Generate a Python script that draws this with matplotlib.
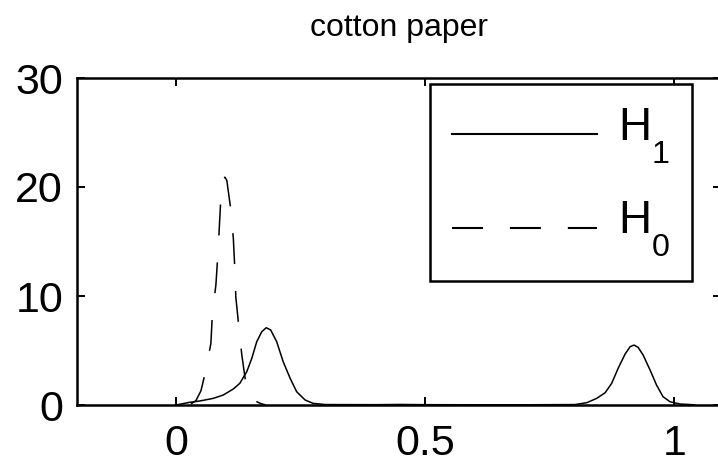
import numpy as np
import matplotlib
matplotlib.use('Agg')
import matplotlib.pyplot as plt
import matplotlib._mathtext as mathtext_internal

plt.rcParams['font.family'] = ['Liberation Sans', 'DejaVu Sans']
plt.rcParams['mathtext.fontset'] = 'custom'
plt.rcParams['mathtext.rm'] = 'Liberation Sans'
plt.rcParams['mathtext.default'] = 'regular'
plt.rcParams['lines.scale_dashes'] = False
# MATLAB-style subscripts sit much lower than mathtext's default
mathtext_internal.FontConstantsBase.sub1 = 0.95

# H1 density (solid)
h1_x = [0.0, 0.028, 0.048, 0.075, 0.095, 0.115, 0.128, 0.142, 0.152, 0.162,
        0.172, 0.181, 0.190, 0.202, 0.215, 0.229, 0.242, 0.259, 0.275, 0.30,
        0.40, 0.45, 0.50, 0.60, 0.70, 0.80, 0.824, 0.844, 0.861, 0.874,
        0.887, 0.901, 0.911, 0.919, 0.927, 0.937, 0.951, 0.964, 0.977, 0.991,
        1.011, 1.04]
h1_y = [0.0, 0.25, 0.37, 0.61, 0.92, 1.47, 1.99, 3.06, 4.28, 5.81,
        6.72, 7.09, 6.88, 5.81, 3.97, 2.45, 1.22, 0.46, 0.15, 0.04,
        0.03, 0.05, 0.03, 0.02, 0.02, 0.04, 0.21, 0.61, 1.13, 1.99,
        3.37, 4.68, 5.35, 5.50, 5.29, 4.59, 3.21, 1.83, 0.76, 0.30,
        0.09, 0.02]

# H0 density (dashed)
h0_x = [0.03, 0.04, 0.05, 0.060, 0.070, 0.073, 0.080, 0.084, 0.087, 0.090,
        0.094, 0.098, 0.102, 0.110, 0.115, 0.118, 0.120, 0.126, 0.132, 0.140,
        0.148, 0.169, 0.18]
h0_y = [0.1, 0.4, 1.3, 3.21, 5.66, 8.41, 11.0, 13.8, 16.4, 19.0,
        20.6, 20.9, 20.6, 17.9, 15.3, 12.5, 9.9, 7.2, 4.6, 2.0,
        0.6, 0.15, 0.0]

labels = ['H$_1$', 'H$_0$']

fig = plt.figure(figsize=(7.18, 4.65), dpi=100)
ax = fig.add_axes([77 / 718, 60 / 465, 644 / 718, 327 / 465])

ax.plot(h1_x, h1_y, color='black', linewidth=1.1, label=labels[0])
ax.plot(h0_x, h0_y, color='black', linewidth=1.1, dashes=(22.3, 19.4),
        label=labels[1])

ax.set_xlim(-0.1986, 1.0933)
ax.set_ylim(0, 30)
ax.set_xticks([0, 0.5, 1])
ax.set_xticklabels(['0', '0.5', '1'])
ax.set_yticks([0, 10, 20, 30])
ax.tick_params(direction='in', length=5.5, width=1.4, labelsize=31,
               top=True, right=True, pad=10)
ax.tick_params(axis='x', pad=14)
for s in ax.spines.values():
    s.set_linewidth(1.8)

ax.set_title('cotton paper', fontsize=23, pad=30)

leg = ax.legend(loc='upper left', bbox_to_anchor=(0.548, 0.982), borderaxespad=0,
                fontsize=33, handlelength=3.17, handletextpad=0.45,
                handleheight=0.2, labelspacing=0.74, borderpad=0.48,
                fancybox=False, edgecolor='black', framealpha=1)
leg.get_frame().set_linewidth(1.8)
for line in leg.get_lines():
    line.set_linewidth(1.5)
    # lower the sample lines towards the label baseline, as in the original
    line.set_ydata(np.asarray(line.get_ydata()) - 5.0)

fig.savefig('out.png', dpi=100)
